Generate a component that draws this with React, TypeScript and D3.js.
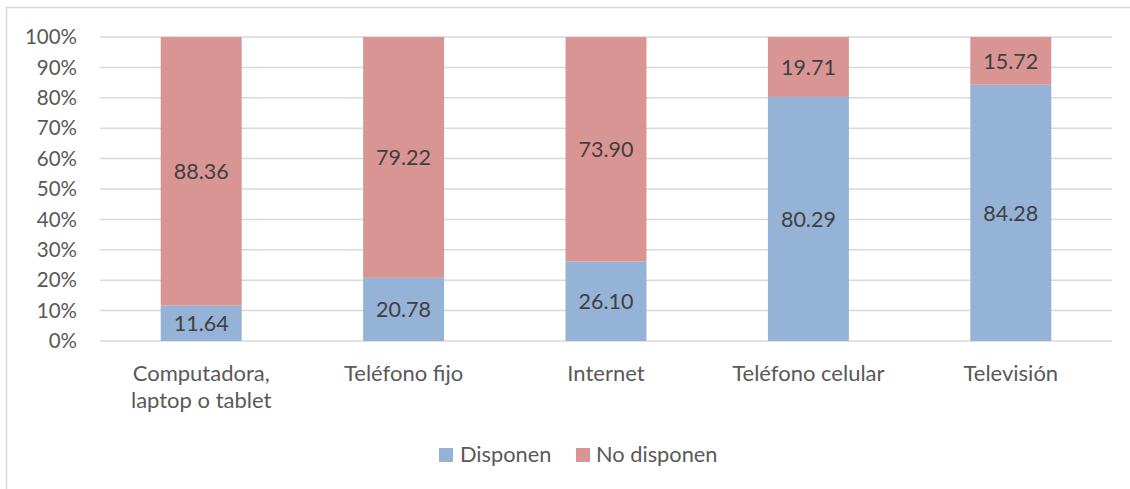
import React from "react";
import * as d3 from "d3";

const categories = [
  ["Computadora,", "laptop o tablet"],
  ["Teléfono fijo"],
  ["Internet"],
  ["Teléfono celular"],
  ["Televisión"],
];
const disponen = [11.64, 20.78, 26.1, 80.29, 84.28];
const noDisponen = [88.36, 79.22, 73.9, 19.71, 15.72];
const yTicks = [0, 10, 20, 30, 40, 50, 60, 70, 80, 90, 100];
const seriesNames = ["Disponen", "No disponen"];
const colors = ["#95B3D7", "#D99594"];

const W = 1130;
const H = 489;
const FONT = "Lato, 'Open Sans', sans-serif";

export default function App() {
  const x = d3
    .scaleBand<number>()
    .domain(d3.range(categories.length))
    .range([100, 1112])
    .paddingInner(0.6)
    .paddingOuter(0.3);
  const y = d3.scaleLinear().domain([0, 100]).range([341, 37]);

  const rows = categories.map((_, i) => ({ i, d: disponen[i], n: noDisponen[i] }));
  const stack = d3.stack<any>().keys(["d", "n"])(rows as any);

  return (
    <svg
      width={W}
      height={H}
      style={{ position: "absolute", left: 0, top: 0, background: "#fff" }}
      fontFamily={FONT}
    >
      <rect x={6.5} y={7.5} width={W + 20} height={H + 20} fill="none" stroke="#D9D9D9" strokeWidth={1.5} />
      {yTicks.map((t) => (
        <g key={t}>
          <line x1={100} x2={1112} y1={y(t)} y2={y(t)} stroke="#D9D9D9" strokeWidth={1.5} />
          <text x={77} y={y(t)} dy="0.35em" textAnchor="end" fontSize={20.5} fill="#595959">
            {t}%
          </text>
        </g>
      ))}
      {stack.map((layer, si) => (
        <g key={si}>
          {layer.map((seg, i) => {
            const bx = x(i)!;
            const bw = x.bandwidth();
            const y0 = y(seg[0]);
            const y1 = y(seg[1]);
            const val = si === 0 ? disponen[i] : noDisponen[i];
            return (
              <g key={i}>
                <rect x={bx} y={y1} width={bw} height={y0 - y1} fill={colors[si]} />
                <text
                  x={bx + bw / 2}
                  y={(y0 + y1) / 2}
                  dy="0.36em"
                  textAnchor="middle"
                  fontSize={21.5}
                  fill="#404040"
                >
                  {val.toFixed(2)}
                </text>
              </g>
            );
          })}
        </g>
      ))}
      {categories.map((lines, i) => (
        <text key={i} x={x(i)! + x.bandwidth() / 2} y={381} textAnchor="middle" fontSize={22} fill="#595959">
          {lines.map((l, j) => (
            <tspan key={j} x={x(i)! + x.bandwidth() / 2} dy={j === 0 ? 0 : 27}>
              {l}
            </tspan>
          ))}
        </text>
      ))}
      <g>
        <rect x={439} y={448} width={14} height={14} fill={colors[0]} />
        <text x={460} y={462} fontSize={21.8} fill="#595959">
          {seriesNames[0]}
        </text>
        <rect x={576} y={448} width={14} height={14} fill={colors[1]} />
        <text x={596} y={462} fontSize={21.8} fill="#595959">
          {seriesNames[1]}
        </text>
      </g>
    </svg>
  );
}
